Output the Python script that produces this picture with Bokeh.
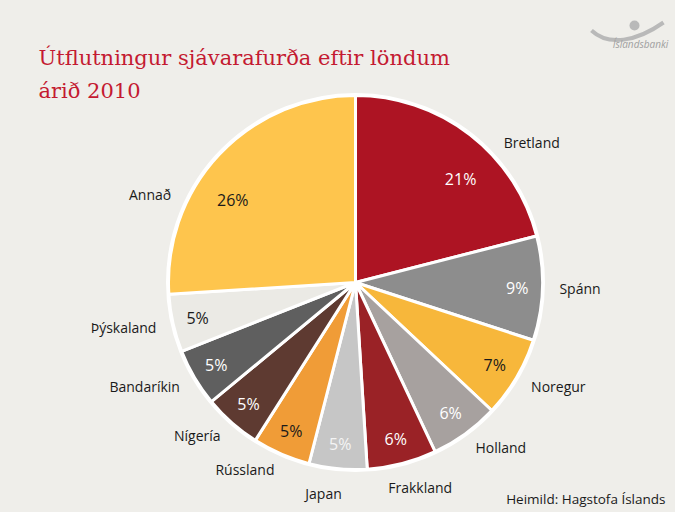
import math
from bokeh.plotting import figure
from bokeh.models import ColumnDataSource, Range1d
from bokeh.embed import file_html
from bokeh.resources import INLINE
from bokeh.core.properties import value

# ---- data ----
countries = ["Bretland", "Spánn", "Noregur", "Holland", "Frakkland", "Japan",
             "Rússland", "Nígería", "Bandaríkin", "Þýskaland", "Annað"]
shares = [21, 9, 7, 6, 6, 5, 5, 5, 5, 5, 26]
pct_labels = [f"{s}%" for s in shares]
title_lines = ["Útflutningur sjávarafurða eftir löndum", "árið 2010"]
source_text = "Heimild: Hagstofa Íslands"
logo_text = "Íslandsbanki"

# ---- style ----
BG = "#efeeea"
colors = ["#ad1423", "#8d8d8d", "#f7b73b", "#a7a19f", "#9a2226", "#c6c6c6",
          "#f09c37", "#5e3a31", "#5f5f5f", "#ebeae5", "#fec54d"]
pct_colors = ["#ffffff", "#ffffff", "#1a1a1a", "#ffffff", "#ffffff", "#f4f4f4",
              "#1a1a1a", "#ffffff", "#ffffff", "#1a1a1a", "#1a1a1a"]
FONT = "Open Sans"

W, H = 675, 512
cx, cy, R = 355, 230, 187

total = float(sum(shares))
starts, ends, pang, lang, pct_r = [], [], [], [], []
cum = 0.0
for s in shares:
    a0 = math.pi / 2 - 2 * math.pi * cum / total
    cum += s
    a1 = math.pi / 2 - 2 * math.pi * cum / total
    starts.append(a0)
    ends.append(a1)
    if s / total > 0.15:
        # large slice: put labels nearer its more horizontal edge
        if abs(math.sin(a0)) < abs(math.sin(a1)):
            ah, ao = a0, a1
        else:
            ah, ao = a1, a0
        sgn = 1 if ao > ah else -1
        pang.append(ah + 0.40 * (ao - ah))
        lang.append(ah + sgn * math.radians(29))
        pct_r.append(0.79 * R)
    else:
        pang.append((a0 + a1) / 2)
        lang.append((a0 + a1) / 2)
        pct_r.append(0.865 * R)

px = [cx + r * math.cos(a) for r, a in zip(pct_r, pang)]
py = [cy + r * math.sin(a) for r, a in zip(pct_r, pang)]

lx, ly, lalign = [], [], []
for a in lang:
    c = math.cos(a)
    if c > 0.3:
        rr, al, dx = 204, "left", 0
    elif c < -0.3:
        rr, al, dx = 204, "right", 0
    else:
        rr, al, dx = 212, "center", (12 if c > 0 else -12)
    lx.append(cx + rr * math.cos(a) + dx)
    ly.append(cy + rr * math.sin(a))
    lalign.append(al)

src = ColumnDataSource(dict(start=starts, end=ends, color=colors,
                            px=px, py=py, pct=pct_labels, pcol=pct_colors,
                            lx=lx, ly=ly, name=countries, align=lalign))

p = figure(width=W, height=H, x_range=Range1d(0, W), y_range=Range1d(0, H),
           output_backend="svg", toolbar_location=None, min_border=0,
           x_axis_type=None, y_axis_type=None,
           background_fill_color=BG, border_fill_color=BG,
           outline_line_color=None)
p.grid.visible = False

p.wedge(x=cx, y=cy, radius=R, start_angle="start", end_angle="end",
        direction="clock", fill_color="color", line_color="white",
        line_width=3, source=src)
p.circle(x=[cx], y=[cy], radius=R + 1, fill_color=None,
         line_color="white", line_width=3)

p.text(x="px", y="py", text="pct", text_color="pcol", source=src,
       text_font=value(FONT), text_font_size="16px",
       text_align="center", text_baseline="middle")
p.text(x="lx", y="ly", text="name", text_align="align", source=src,
       text_color="#1a1a1a", text_font=value(FONT), text_font_size="14px",
       text_baseline="middle")

# title
p.text(x=[38, 38], y=[455, 422], text=title_lines, text_color="#c41a31",
       text_font=value("DejaVu Serif"), text_font_size="21px",
       text_align="left", text_baseline="alphabetic")

# source
p.text(x=[665], y=[14], text=[source_text], text_color="#1a1a1a",
       text_font=value(FONT), text_font_size="13.5px",
       text_align="right", text_baseline="middle")

# logo
p.bezier(x0=[591], y0=[482], x1=[663], y1=[490], cx0=[608], cy0=[466],
         cx1=[636], cy1=[471], line_color="#b9b9b9", line_width=4)
p.circle(x=[634], y=[487], radius=5, fill_color="#b9b9b9", line_color=None)
p.text(x=[640], y=[469], text=[logo_text], text_color="#a0a0a0",
       text_font=value(FONT), text_font_size="10px", text_font_style="italic",
       text_align="center", text_baseline="middle")

html = file_html(p, INLINE)
html = html.replace("</head>", "<style>body{background:%s}</style></head>" % BG)
open("out.html", "w").write(html)
